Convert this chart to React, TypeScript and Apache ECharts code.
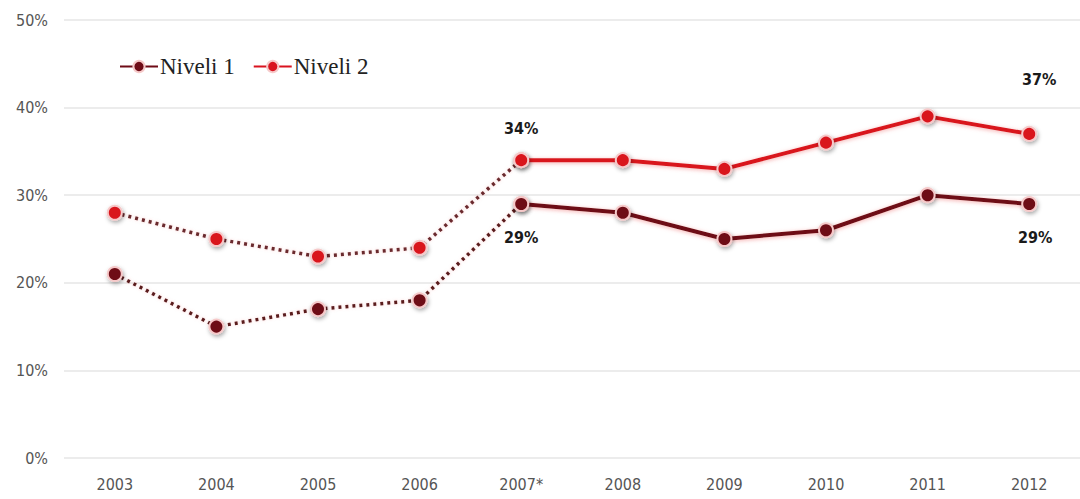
import React, { useEffect, useRef } from "react";
import * as echarts from "echarts";

const years = ["2003", "2004", "2005", "2006", "2007*", "2008", "2009", "2010", "2011", "2012"];
const niveli1 = [21, 15, 17, 18, 29, 28, 25, 26, 30, 29];
const niveli2 = [28, 25, 23, 24, 34, 34, 33, 36, 39, 37];
const yTicks = [0, 10, 20, 30, 40, 50];
const splitIndex = 4; // dotted before 2007, solid from 2007

const C1 = "#6e0b16";
const C2 = "#d9131f";

function part(vals: number[], solid: boolean) {
  return vals.map((v, i) => (solid ? (i >= splitIndex ? v : "-") : i <= splitIndex ? v : "-"));
}

function labeled(vals: (number | string)[], marks: Record<number, any>) {
  return vals.map((v, i) => (marks[i] ? { value: v, label: marks[i] } : v));
}

const lblStyle = {
  show: true,
  formatter: "{c}%",
  color: "#1a1a1a",
  fontWeight: "bold",
  fontSize: 16,
  fontFamily: "DejaVu Sans Condensed, DejaVu Sans, sans-serif",
};

export default function App() {
  const ref = useRef<HTMLDivElement>(null);
  useEffect(() => {
    const chart = echarts.init(ref.current!, null, { renderer: "svg" });
    const markerStyle = (c: string) => ({
      color: c,
      borderColor: "#f6c9c9",
      borderWidth: 2,
      shadowColor: "rgba(0,0,0,0.35)",
      shadowBlur: 4,
      shadowOffsetX: 1,
      shadowOffsetY: 2,
    });
    const solidLine = (c: string) => ({
      color: c,
      width: 4,
      shadowColor: "rgba(240,120,120,0.6)",
      shadowBlur: 4,
      shadowOffsetY: 1,
    });
    const dotLine = (c: string) => ({
      color: c,
      width: 3.5,
      type: [3, 4] as any,
      shadowColor: "rgba(240,150,150,0.5)",
      shadowBlur: 3,
    });
    const axisFont = {
      color: "#555",
      fontSize: 16,
      fontFamily: "DejaVu Sans Condensed, DejaVu Sans, sans-serif",
    };
    chart.setOption({
      animation: false,
      backgroundColor: "#ffffff",
      grid: { left: 64, right: -6, top: 20, bottom: 41 },
      legend: {
        left: 114,
        top: 50,
        itemWidth: 38,
        itemHeight: 14,
        itemGap: 18,
        data: ["Niveli 1", "Niveli 2"],
        textStyle: { fontFamily: "Liberation Serif, serif", fontSize: 23, color: "#222", padding: [0, 0, 0, -3] },
      },
      xAxis: {
        type: "category",
        data: years,
        boundaryGap: true,
        axisLine: { show: false },
        axisTick: { show: false },
        axisLabel: { ...axisFont, margin: 18 },
      },
      yAxis: {
        type: "value",
        min: yTicks[0],
        max: yTicks[yTicks.length - 1],
        interval: 10,
        axisLine: { show: false },
        axisTick: { show: false },
        splitLine: { lineStyle: { color: "#ececec", width: 2 } },
        axisLabel: { ...axisFont, formatter: "{value}%", margin: 16 },
      },
      series: [
        {
          name: "Niveli 1",
          type: "line",
          data: labeled(part(niveli1, true), {
            4: { ...lblStyle, position: "bottom", distance: 18 },
            9: { ...lblStyle, position: "bottom", distance: 18, offset: [6, 0] },
          }),
          symbol: "circle",
          symbolSize: 14,
          lineStyle: solidLine(C1),
          itemStyle: markerStyle(C1),
          z: 3,
        },
        {
          name: "Niveli 2",
          type: "line",
          data: labeled(part(niveli2, true), {
            4: { ...lblStyle, position: "top", distance: 16 },
            9: { ...lblStyle, position: "top", distance: 38, offset: [10, 0] },
          }),
          symbol: "circle",
          symbolSize: 14,
          lineStyle: solidLine(C2),
          itemStyle: markerStyle(C2),
          z: 3,
        },
        {
          name: "Niveli 1",
          type: "line",
          data: part(niveli1, false),
          symbol: "circle",
          symbolSize: 14,
          lineStyle: dotLine("#5a1a1e"),
          itemStyle: markerStyle(C1),
          z: 2,
        },
        {
          name: "Niveli 2",
          type: "line",
          data: part(niveli2, false),
          symbol: "circle",
          symbolSize: 14,
          lineStyle: dotLine("#6a2a2e"),
          itemStyle: markerStyle(C2),
          z: 2,
        },
      ],
    });
    return () => chart.dispose();
  }, []);
  return (
    <div
      ref={ref}
      style={{ position: "absolute", left: 0, top: 0, width: 1080, height: 499, background: "#fff" }}
    />
  );
}
